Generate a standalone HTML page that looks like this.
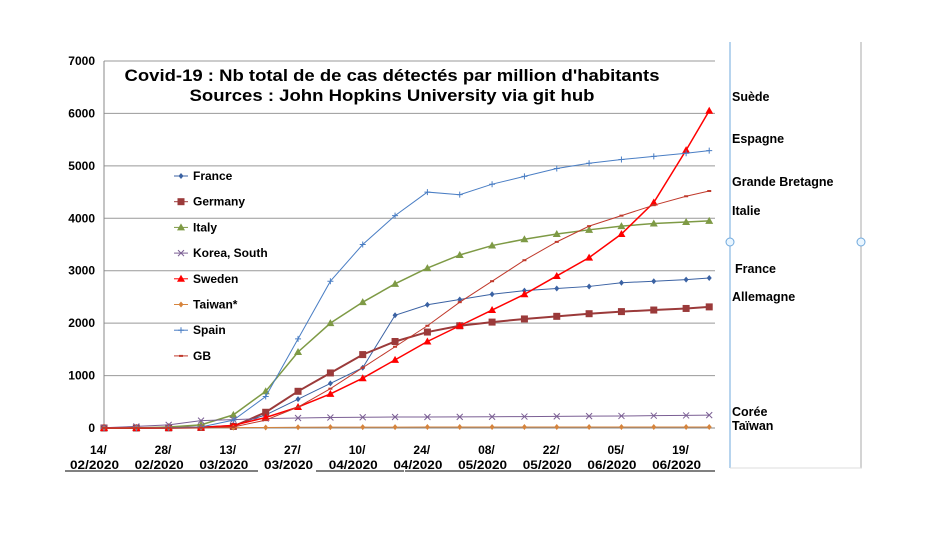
<!DOCTYPE html>
<html><head><meta charset="utf-8"><style>
body{margin:0;background:#fff;font-family:"Liberation Sans",Arial,sans-serif}
svg text{font-family:"Liberation Sans",Arial,sans-serif;font-weight:bold}
</style></head><body>
<svg id="chart" width="926" height="549" viewBox="0 0 926 549" xmlns="http://www.w3.org/2000/svg"></svg>
<script>
const days=[0,7,14,21,28,35,42,49,56,63,70,77,84,91,98,105,112,119,126,131];
const yTicks=[0,1000,2000,3000,4000,5000,6000,7000];
const xTickDays=[0,14,28,42,56,70,84,98,112,126];
const xTickTop=["14/","28/","13/","27/","10/","24/","08/","22/","05/","19/"];
const xTickBottom=["02/2020","02/2020","03/2020","03/2020","04/2020","04/2020","05/2020","05/2020","06/2020","06/2020"];
const france=[0,0,5,20,50,250,550,850,1150,2150,2350,2450,2550,2620,2660,2700,2770,2800,2830,2860];
const germany=[0,0,2,10,30,300,700,1050,1400,1650,1830,1950,2020,2080,2130,2180,2220,2250,2280,2310];
const italy=[0,0,20,60,250,700,1450,2000,2400,2750,3050,3300,3480,3600,3700,3780,3850,3900,3930,3950];
const korea=[5,30,60,140,160,180,190,200,205,210,210,212,215,218,222,226,230,235,240,245];
const sweden=[0,0,2,10,50,200,400,650,950,1300,1650,1950,2250,2550,2900,3250,3700,4300,5300,6050];
const taiwan=[1,2,3,5,8,10,14,16,17,17,18,18,18,18,19,19,19,19,19,20];
const spain=[0,0,5,20,150,600,1700,2800,3500,4050,4500,4450,4650,4800,4950,5050,5120,5180,5240,5290];
const gb=[0,0,1,5,20,150,400,750,1150,1550,1950,2400,2800,3200,3550,3850,4050,4250,4420,4520];
const NS="http://www.w3.org/2000/svg";
const svg=document.getElementById('chart');
const x=d=>104+d*4.62;
const y=v=>428-v*0.05243;
function mk(tag,attrs,parent){const e=document.createElementNS(NS,tag);for(const k in attrs)e.setAttribute(k,attrs[k]);(parent||svg).appendChild(e);return e;}
yTicks.forEach(v=>{
  const g=mk('line',{x1:104,x2:715,y1:y(v),y2:y(v),stroke:v===0?'#888':'#999','stroke-width':1});
  
  
  const t=mk('text',{x:95,y:y(v)+4,'text-anchor':'end','font-size':12});
  t.textContent=v;
  
  
});
const ax=mk('line',{x1:104,x2:104,y1:61,y2:428,stroke:'#888'});


xTickDays.forEach((d,i)=>{
  const t1=mk('text',{x:x(d)-14,y:454,'font-size':12});t1.textContent=xTickTop[i];
  
  
  const t2=mk('text',{x:x(d)-34,y:469,'font-size':12,textLength:49,lengthAdjust:'spacingAndGlyphs'});t2.textContent=xTickBottom[i];
  
  
});
[[65,258],[316,404],[405,715]].forEach(s=>{const l=mk('line',{x1:s[0],x2:s[1],y1:471,y2:471,stroke:'#000'});
  
  });
const series=[
 {n:'France',d:france,c:'#3b62a3',m:'diamond',w:1},
 {n:'Germany',d:germany,c:'#9b3a3a',m:'square',w:2},
 {n:'Italy',d:italy,c:'#7e9a45',m:'triangle',w:1.5},
 {n:'Korea, South',d:korea,c:'#7b5f94',m:'x',w:1},
 {n:'Sweden',d:sweden,c:'#ff0000',m:'triangle',w:1.5},
 {n:'Taiwan*',d:taiwan,c:'#d6843c',m:'diamond',w:1},
 {n:'Spain',d:spain,c:'#4a7ec4',m:'plus',w:1},
 {n:'GB',d:gb,c:'#c0392b',m:'dash',w:1}
];
function marker(m,cx,cy,c,g){
  if(m==='square')mk('rect',{x:cx-3.5,y:cy-3.5,width:7,height:7,fill:c},g);
  else if(m==='triangle')mk('polygon',{points:`${cx},${cy-4} ${cx-4},${cy+3} ${cx+4},${cy+3}`,fill:c},g);
  else if(m==='diamond')mk('polygon',{points:`${cx},${cy-3} ${cx+2.5},${cy} ${cx},${cy+3} ${cx-2.5},${cy}`,fill:c},g);
  else if(m==='x'){mk('path',{d:`M${cx-3} ${cy-3}L${cx+3} ${cy+3}M${cx+3} ${cy-3}L${cx-3} ${cy+3}`,stroke:c,fill:'none'},g);}
  else if(m==='plus'){mk('path',{d:`M${cx-3} ${cy}L${cx+3} ${cy}M${cx} ${cy-3}L${cx} ${cy+3}`,stroke:c,fill:'none'},g);}
  else mk('rect',{x:cx-2,y:cy-1,width:4,height:2,fill:c},g);
}
series.forEach((s,si)=>{
  const g=mk('g',{});
  
  
  mk('polyline',{points:s.d.map((v,i)=>x(days[i])+','+y(v)).join(' '),fill:'none',stroke:s.c,'stroke-width':s.w},g);
  s.d.forEach((v,i)=>marker(s.m,x(days[i]),y(v),s.c,g));
  const ly=176+si*25.7;
  const lg=mk('g',{});
  
  
  mk('line',{x1:174,x2:188,y1:ly,y2:ly,stroke:s.c,'stroke-width':1},lg);
  marker(s.m,181,ly,s.c,lg);
  const t=mk('text',{x:193,y:ly+4,'font-size':12},lg);t.textContent=s.n;
});
const t1=mk('text',{x:392,y:81,'text-anchor':'middle','font-size':16.5,textLength:535,lengthAdjust:'spacingAndGlyphs'});t1.textContent="Covid-19 : Nb total de de cas détectés par million d'habitants";


const t2=mk('text',{x:392,y:101,'text-anchor':'middle','font-size':16.5,textLength:405,lengthAdjust:'spacingAndGlyphs'});t2.textContent="Sources : John Hopkins University via git hub";


const l1=mk('line',{x1:730,x2:730,y1:42,y2:468,stroke:'#6fa8dc'});


const l2=mk('line',{x1:861,x2:861,y1:42,y2:468,stroke:'#aaa'});


const l3=mk('line',{x1:730,x2:862,y1:468,y2:468,stroke:'#ddd'});


[730,861].forEach(cx=>{const c=mk('circle',{cx:cx,cy:242,r:4,fill:'#eaf6ff',stroke:'#6fa8dc'});
  
  });
const labels=[["Suède",101],["Espagne",143],["Grande Bretagne",186],["Italie",215],["France",273],["Allemagne",301],["Corée",416],["Taïwan",430]];
labels.forEach(([s,yy])=>{const t=mk('text',{x:s==='France'?735:732,y:yy,'font-size':12.5});t.textContent=s;
  
  });
</script>
</body></html>
